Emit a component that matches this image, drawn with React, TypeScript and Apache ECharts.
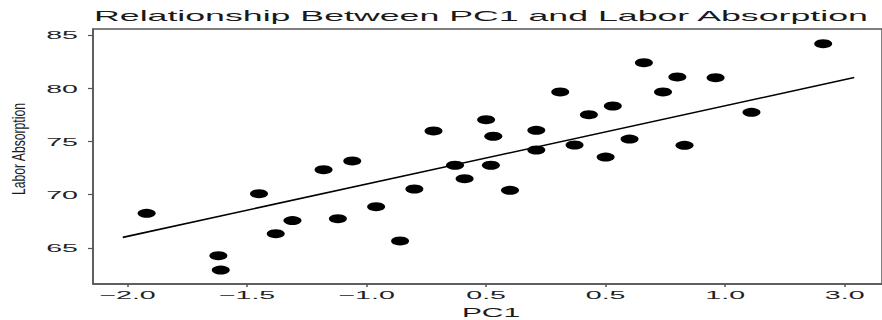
import React, { useEffect, useRef } from "react";
import * as echarts from "echarts";

const titleText = "Relationship Between PC1 and Labor Absorption";
const xName = "PC1";
const yName = "Labor Absorption";
const xTickValues = [-2, -1.5, -1, -0.5, 0, 0.5, 1];
const xTickLabels = ["−2.0", "−1.5", "−1.0", "0.5", "0.5", "1.0", "3.0"];
const yTickValues = [65, 70, 75, 80, 85];
const yTickLabels = ["65", "70", "75", "80", "85"];

const pc1 = [
  -1.92, -1.62, -1.61, -1.45, -1.38, -1.31, -1.18, -1.06, -1.12, -0.96,
  -0.86, -0.8, -0.72, -0.63, -0.59, -0.5, -0.47, -0.48, -0.4, -0.29,
  -0.29, -0.19, -0.13, -0.07, 0.03, 0.0, 0.1, 0.16, 0.24, 0.3,
  0.33, 0.46, 0.61, 0.91,
];
const labor = [
  68.26, 64.28, 62.93, 70.1, 66.34, 67.57, 72.35, 73.17, 67.75, 68.88,
  65.66, 70.54, 75.99, 72.77, 71.51, 77.05, 75.49, 72.77, 70.41, 76.05,
  74.2, 79.65, 74.67, 77.52, 78.33, 73.54, 75.23, 82.4, 79.65, 81.06,
  74.64, 80.99, 77.74, 84.18,
];
const fitX = [-2.02, 1.04];
const fitY = [66.0, 81.0];

export default function App() {
  const ref = useRef<HTMLDivElement>(null);
  useEffect(() => {
    if (!ref.current) return;
    const chart = echarts.init(ref.current, null, { renderer: "svg" });
    const axisColor = "#555";
    chart.setOption({
      animation: false,
      backgroundColor: "#fff",
      grid: {
        left: 93,
        top: 29,
        width: 800,
        height: 255,
        show: true,
        borderColor: axisColor,
        borderWidth: 1.5,
        backgroundColor: "transparent",
      },
      xAxis: {
        type: "value",
        min: -2.1444,
        max: 1.156,
        axisLine: { show: true, onZero: false, lineStyle: { color: axisColor, width: 1.5 } },
        axisTick: {
          show: true,
          length: 3,
          customValues: xTickValues,
          lineStyle: { color: axisColor, width: 1.5 },
        },
        axisLabel: { show: false },
        splitLine: { show: false },
      },
      yAxis: {
        type: "value",
        min: 61.62,
        max: 85.56,
        axisLine: { show: true, onZero: false, lineStyle: { color: axisColor, width: 1.5 } },
        axisTick: {
          show: true,
          length: 5,
          customValues: yTickValues,
          lineStyle: { color: axisColor, width: 1.2 },
        },
        axisLabel: { show: false },
        splitLine: { show: false },
      },
      series: [
        {
          type: "scatter",
          data: pc1.map((x, i) => [x, labor[i]]),
          symbol: "circle",
          symbolSize: [18, 9],
          itemStyle: { color: "#000", opacity: 1 },
          z: 3,
        },
        {
          type: "line",
          data: fitX.map((x, i) => [x, fitY[i]]),
          showSymbol: false,
          symbol: "none",
          lineStyle: { color: "#000", width: 1.6 },
          z: 2,
        },
      ],
    });

    const font = "Liberation Sans, Arial, Helvetica, sans-serif";
    const graphics: any[] = [];
    graphics.push({
      type: "text",
      x: 94,
      y: 16,
      scaleX: 2.38,
      style: {
        text: titleText,
        font: `15px ${font}`,
        fill: "#1a1a1a",
        align: "left",
        verticalAlign: "middle",
      },
    });
    yTickValues.forEach((v, i) => {
      const p = chart.convertToPixel({ gridIndex: 0 }, [0, v]) as number[];
      graphics.push({
        type: "text",
        x: 78,
        y: p[1] + 0.5,
        scaleX: 2.6,
        style: {
          text: yTickLabels[i],
          font: `11px ${font}`,
          fill: "#222",
          align: "right",
          verticalAlign: "middle",
        },
      });
    });
    xTickValues.forEach((v, i) => {
      const p = chart.convertToPixel({ gridIndex: 0 }, [v, 70]) as number[];
      graphics.push({
        type: "text",
        x: p[0],
        y: 295,
        scaleX: 2.6,
        style: {
          text: xTickLabels[i],
          font: `11px ${font}`,
          fill: "#222",
          align: "center",
          verticalAlign: "middle",
        },
      });
    });
    graphics.push({
      type: "text",
      x: 491,
      y: 312,
      scaleX: 2.3,
      style: {
        text: xName,
        font: `13px ${font}`,
        fill: "#1a1a1a",
        align: "center",
        verticalAlign: "middle",
      },
    });
    graphics.push({
      type: "text",
      x: 18,
      y: 149,
      rotation: Math.PI / 2,
      scaleX: 0.64,
      style: {
        text: yName,
        font: `19px ${font}`,
        fill: "#1a1a1a",
        align: "center",
        verticalAlign: "middle",
      },
    });
    chart.setOption({ graphic: graphics });

    return () => chart.dispose();
  }, []);
  return (
    <div
      ref={ref}
      style={{ position: "fixed", left: 0, top: 0, width: 882, height: 320, background: "#fff" }}
    />
  );
}
